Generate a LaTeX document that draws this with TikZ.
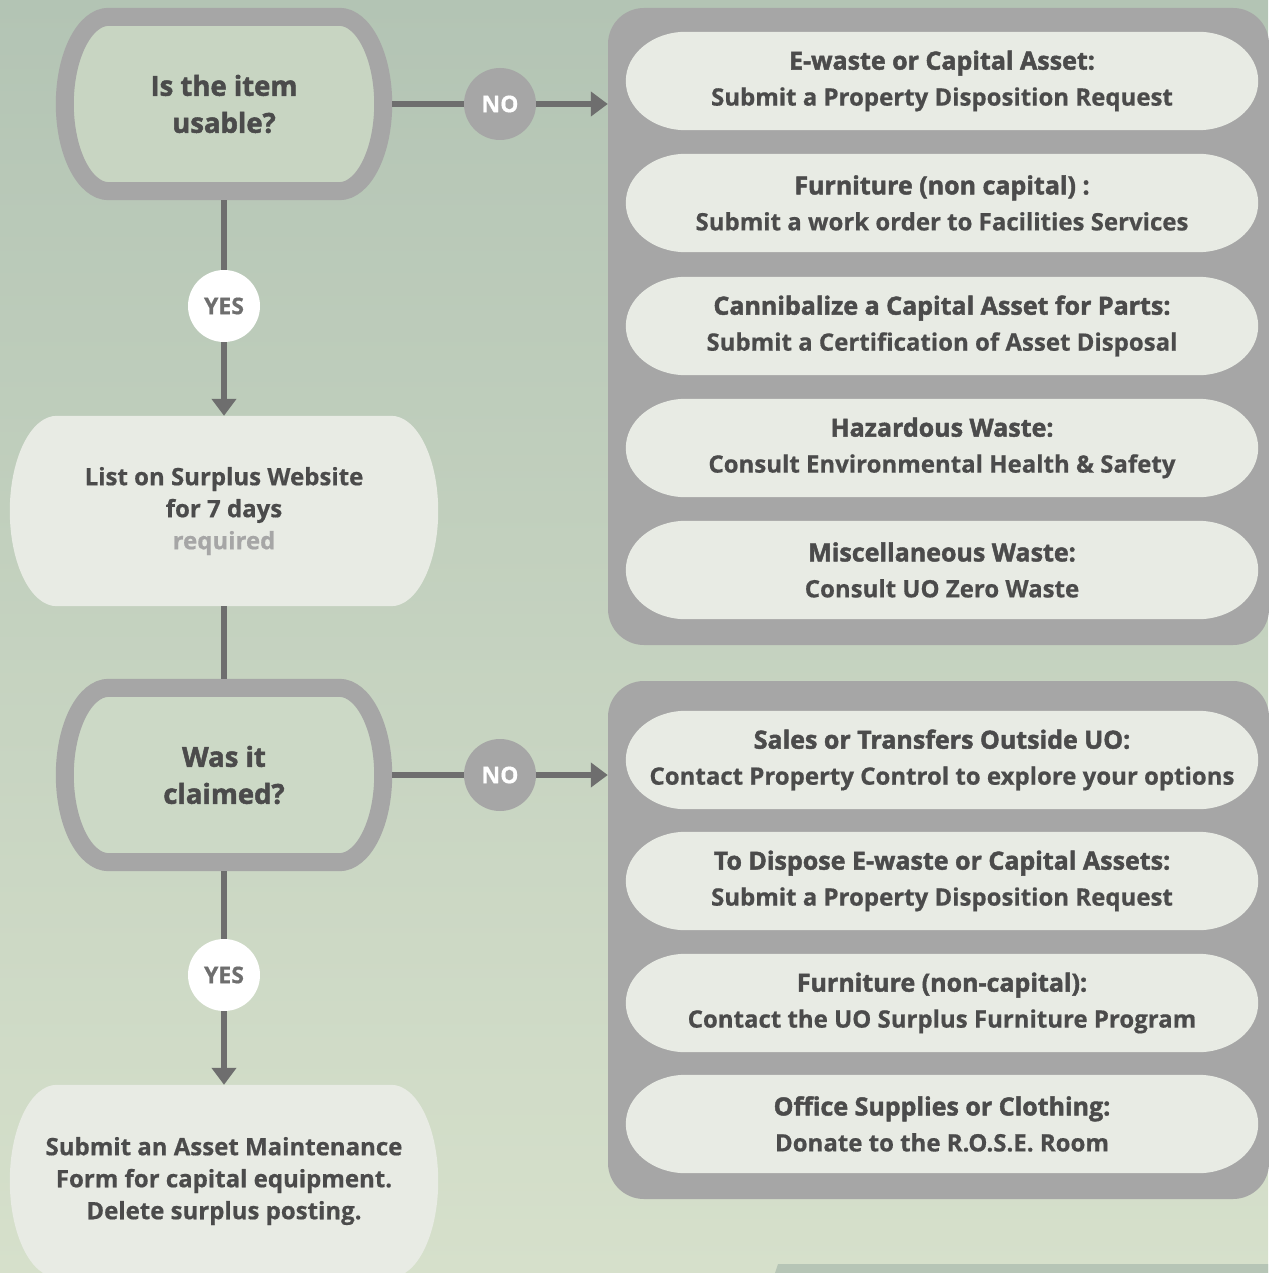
\documentclass[tikz,border=0pt]{standalone}
\usepackage{fontspec}
\setmainfont{Open Sans}[BoldFeatures={FakeBold=0.6}]
\newfontfamily\heavyfont{Open Sans}[BoldFeatures={FakeBold=1.8}]
\usetikzlibrary{calc,arrows.meta}
\pgfdeclarelayer{back}
\pgfdeclarelayer{background}
\pgfsetlayers{back,background,main}
\definecolor{bgtop}{HTML}{B3C4B4}
\definecolor{bgbot}{HTML}{D6E0CB}
\definecolor{bgstrip}{HTML}{B6C5B6}
\definecolor{frame}{HTML}{A6A6A6}
\definecolor{qfill}{HTML}{C8D5C2}
\definecolor{qfillb}{HTML}{CCD9C6}
\definecolor{pale}{HTML}{E8EBE4}
\definecolor{ink}{HTML}{4B4B4B}
\definecolor{wire}{HTML}{6E6E6E}
\newcommand{\capsule}[3]{
  let
    \p1 = (#1.north west),
    \p2 = (#1.south east),
    \n1 = {(\y1-\y2)/2-#3pt}
  in
  (\x1+#2pt+#3pt,\y1-#3pt) -- (\x2-#2pt-#3pt,\y1-#3pt)
  arc[start angle=90,end angle=-90,x radius=#2pt,y radius=\n1]
  -- (\x1+#2pt+#3pt,\y2+#3pt)
  arc[start angle=270,end angle=90,x radius=#2pt,y radius=\n1] -- cycle
}
\newcommand{\headline}[1]{{\fontsize{25}{36}\selectfont\heavyfont\bfseries #1}}

\begin{document}
\begin{tikzpicture}[x=1pt,y=1pt,>={Triangle[length=17pt,width=24pt]}]
\tikzstyle{ask}=[minimum width=336pt,minimum height=192pt,inner sep=0pt,text=ink,align=center,font=\fontsize{27.5}{37}\selectfont\heavyfont\bfseries]
\tikzstyle{note}=[minimum width=428pt,minimum height=190pt,inner sep=0pt,text=ink,align=center,font=\fontsize{24}{32}\selectfont\bfseries]
\tikzstyle{dot}=[circle,minimum size=72pt,inner sep=0pt,font=\fontsize{23}{23}\selectfont\bfseries]
\tikzstyle{nodot}=[dot,fill=frame,text=white]
\tikzstyle{yesdot}=[dot,fill=white,text=wire]
\tikzstyle{panel}=[rounded corners=36pt,fill=frame,minimum width=661pt,inner sep=0pt]
\tikzstyle{item}=[minimum width=632pt,minimum height=98pt,inner sep=0pt,text=ink,align=center,font=\fontsize{24}{36}\selectfont\bfseries]
\tikzstyle{flow}=[draw=wire,line width=5.5pt]

\useasboundingbox (0,0) rectangle (1268,-1273);

% left column
\node[ask] (q1) at (224,-104) {Is the item\\usable?};
\node[nodot] (no1) at (500,-104) {NO};
\node[yesdot] (yes1) at (224,-306) {YES};
\node[note] (list) at (224,-511) {List on Surplus Website\\for 7 days\\{\color{frame}required}};
\node[ask] (q2) at (224,-775) {Was it\\claimed?};
\node[nodot] (no2) at (500,-775) {NO};
\node[yesdot] (yes2) at (224,-975) {YES};
\node[note,minimum height=192pt] (form) at (224,-1181) {Submit an Asset Maintenance\\Form for capital equipment.\\Delete surplus posting.};

\begin{pgfonlayer}{back}
\shade[top color=bgtop,bottom color=bgbot] (0,0) rectangle (1268,-1273);
\fill[bgstrip] (778,-1264) -- (1268,-1264) -- (1268,-1273) -- (775,-1273) -- cycle;
\end{pgfonlayer}

\begin{pgfonlayer}{background}
\node[panel,minimum height=637pt] (panel1) at (938.5,-326.5) {};
\node[panel,minimum height=518pt] (panel2) at (938.5,-940) {};
\filldraw[fill=qfill,draw=frame,line width=18pt] \capsule{q1}{44}{9};
\filldraw[fill=qfillb,draw=frame,line width=18pt] \capsule{q2}{44}{9};
\fill[pale] \capsule{list}{47}{0};
\fill[pale] \capsule{form}{47}{0};
\end{pgfonlayer}

% right panels
\foreach [count=\i] \yy/\head/\body in {
  81/{E-waste or Capital Asset:}/{Submit a Property Disposition Request},
  203/{Furniture (non capital) :}/{Submit a work order to Facilities Services},
  326/{Cannibalize a Capital Asset for Parts:}/{Submit a Certification of Asset Disposal},
  448/{Hazardous Waste:}/{Consult Environmental Health \& Safety},
  570/{Miscellaneous Waste:}/{Consult UO Zero Waste}} {
  \node[item] (a\i) at (942,-\yy) {\headline{\head}\\\body};
  \begin{pgfonlayer}{background}
  \fill[pale] \capsule{a\i}{60}{0};
  \end{pgfonlayer}
}
\foreach [count=\i] \yy/\head/\body in {
  760/{Sales or Transfers Outside UO:}/{Contact Property Control to explore your options},
  881/{To Dispose E-waste or Capital Assets:}/{Submit a Property Disposition Request},
  1003/{Furniture (non-capital):}/{Contact the UO Surplus Furniture Program},
  1124/{Office Supplies or Clothing:}/{Donate to the R.O.S.E. Room}} {
  \node[item] (b\i) at (942,-\yy) {\headline{\head}\\\body};
  \begin{pgfonlayer}{background}
  \fill[pale] \capsule{b\i}{60}{0};
  \end{pgfonlayer}
}

\draw[flow] (q1) -- (no1);
\draw[flow,->] (no1) -- (no1 -| panel1.west);
\draw[flow] (q1) -- (yes1);
\draw[flow,->] (yes1) -- (list);
\draw[flow] (list) -- (q2);
\draw[flow] (q2) -- (no2);
\draw[flow,->] (no2) -- (no2 -| panel2.west);
\draw[flow] (q2) -- (yes2);
\draw[flow,->] (yes2) -- (form);
\end{tikzpicture}
\end{document}
